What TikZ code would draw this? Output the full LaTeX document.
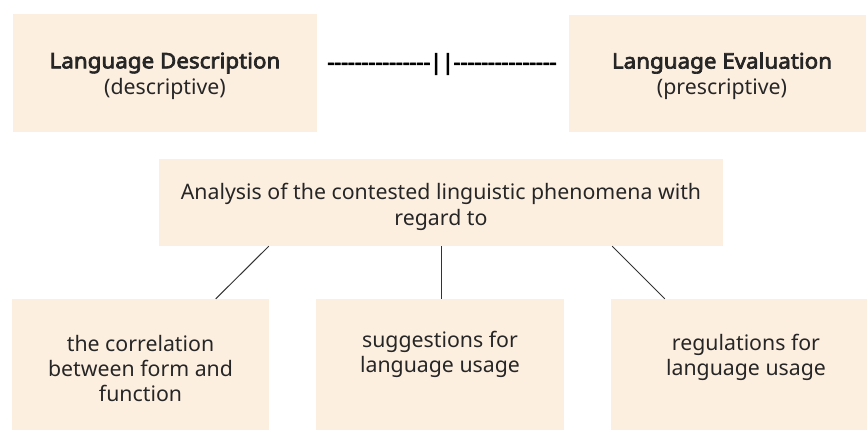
\documentclass[tikz,border=0pt]{standalone}
\usepackage{fontspec}
\setmainfont{Noto Sans}
\newfontfamily\titlefont{Noto Sans}[FakeBold=3.2, FakeStretch=1.05]
\newfontfamily\dashfont{Noto Sans}[FakeBold=4]
\definecolor{boxfill}{HTML}{FDEFE0}
\definecolor{ink}{HTML}{262626}
\definecolor{linecol}{HTML}{333333}
\tikzset{
  box/.style={fill=boxfill, draw=none, inner sep=0pt},
  txt/.style={align=center, text=ink, inner sep=0pt, font=\fontsize{21.3}{26}\selectfont},
  btxt/.style={align=center, text=ink, inner sep=0pt, font=\fontsize{21.3}{25}\selectfont},
  conn/.style={draw=linecol, line width=1pt}
}
\begin{document}
\begin{tikzpicture}[x=1pt,y=-1pt]
\useasboundingbox (0,0) rectangle (867,429);
\clip (0,0) rectangle (867,429);
% boxes
\node[box, minimum width=304pt, minimum height=118pt] (desc) at (165,73) {};
\node[box, minimum width=297pt, minimum height=117pt] (eval) at (717.5,73.5) {};
\node[box, minimum width=564pt, minimum height=87pt] (ana) at (441,202.5) {};
\node[box, minimum width=257pt, minimum height=140pt] (corr) at (140.5,369) {};
\node[box, minimum width=248pt, minimum height=140pt] (sugg) at (440,369) {};
\node[box, minimum width=256pt, minimum height=140pt] (regu) at (739,369) {};
% texts
\node[txt] (desct) at (165,76) {{\titlefont Language Description}\\(descriptive)};
\node[txt] (evalt) at (722,76) {{\titlefont Language Evaluation}\\(prescriptive)};
\node[txt, text=black] (sep) at (442,64) {\dashfont ---------------||---------------};
\node[txt] (anat) at (441,207) {Analysis of the contested linguistic phenomena with\\regard to};
\node[btxt] (corrt) at (140.5,369) {the correlation\\between form and\\function};
\node[btxt] (suggt) at (440,354) {suggestions for\\language usage};
\node[btxt] (regut) at (746,357) {regulations for\\language usage};
% connectors
\draw[conn] ([xshift=110pt]ana.south west) -- ([xshift=204pt]corr.north west);
\draw[conn] ([xshift=0.5pt]ana.south) -- ([xshift=0.5pt]ana.south |- sugg.north);
\draw[conn] ([xshift=-111pt]ana.south east) -- ([xshift=54pt]regu.north west);
\end{tikzpicture}
\end{document}
